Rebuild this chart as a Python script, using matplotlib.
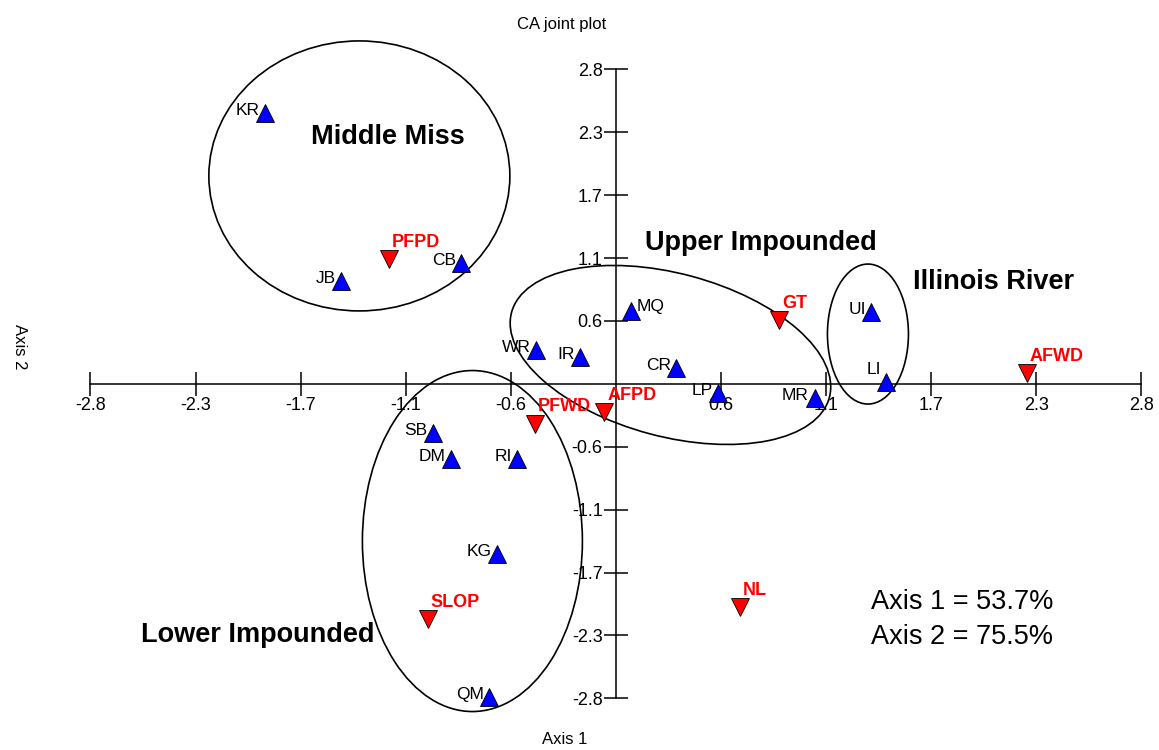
import numpy as np
import matplotlib
matplotlib.use("Agg")
import matplotlib.pyplot as plt
from matplotlib.patches import Ellipse
from matplotlib.transforms import ScaledTranslation

plt.rcParams['font.family'] = ['Liberation Sans', 'DejaVu Sans']

# sites (blue triangles)
site_names = ["KR", "JB", "CB", "MQ", "WR", "IR", "CR", "LP", "MR", "UI", "LI",
              "SB", "DM", "RI", "KG", "QM"]
site_x = [-1.876, -1.469, -0.827, 0.083, -0.426, -0.190, 0.324, 0.549, 1.063, 1.368, 1.448,
          -0.977, -0.881, -0.527, -0.634, -0.677]
site_y = [2.422, 0.919, 1.080, 0.651, 0.302, 0.240, 0.141, -0.082, -0.127, 0.642, 0.016,
          -0.440, -0.673, -0.673, -1.523, -2.802]

# species / variables (red triangles)
var_names = ["PFPD", "GT", "AFWD", "AFPD", "PFWD", "NL", "SLOP"]
var_x = [-1.214, 0.875, 2.201, -0.062, -0.431, 0.662, -1.005]
var_y = [1.114, 0.571, 0.094, -0.250, -0.355, -1.994, -2.106]

# group ellipses
groups = ["Middle Miss", "Upper Impounded", "Illinois River", "Lower Impounded"]
group_cx = [-1.373, 0.292, 1.349, -0.768]
group_cy = [1.859, 0.258, 0.445, -1.406]
group_label_x = [-1.218, 0.774, 2.021, -1.919]
group_label_y = [2.203, 1.257, 0.913, -2.247]

tick_vals = [-2.8125, -2.25, -1.6875, -1.125, -0.5625, 0.5625, 1.125, 1.6875, 2.25, 2.8125]
tick_labels = ["-2.8", "-2.3", "-1.7", "-1.1", "-0.6", "0.6", "1.1", "1.7", "2.3", "2.8"]

fig = plt.figure(figsize=(11.59, 7.5), dpi=100)
ax = fig.add_axes([0.078, 0.0689, 0.9068, 0.8387])
ax.set_xlim(-2.8125, 2.8125)
ax.set_ylim(-2.8125, 2.8125)

for s in ["top", "right"]:
    ax.spines[s].set_visible(False)
ax.spines["left"].set_position(("data", 0))
ax.spines["bottom"].set_position(("data", 0))
for s in ["left", "bottom"]:
    ax.spines[s].set_linewidth(1.1)
    ax.spines[s].set_zorder(1)

ax.set_xticks(tick_vals)
ax.set_xticklabels(tick_labels)
ax.set_yticks(tick_vals)
ax.set_yticklabels(tick_labels)
ax.tick_params(direction="inout", length=17, width=1.1, labelsize=13, pad=1)

# ellipses: sizes in display pixels, centred on data points
ell_w = [301, 329, 81, 220]
ell_h = [270, 163, 140, 341]
ell_ang = [0, -15, 0, 0]
for i in range(len(groups)):
    tr = ScaledTranslation(group_cx[i], group_cy[i], ax.transData)
    e = Ellipse((0, 0), ell_w[i], ell_h[i], angle=ell_ang[i], transform=tr,
                fill=False, edgecolor="black", linewidth=1.2, clip_on=False, zorder=2)
    ax.add_artist(e)
    ax.text(group_label_x[i], group_label_y[i], groups[i], fontsize=19.5,
            fontweight="bold", ha="center", va="center", zorder=5)

ax.plot(site_x, site_y, linestyle="none", marker="^", markersize=12.5,
        markerfacecolor="#0000FF", markeredgecolor="black", markeredgewidth=0.6,
        zorder=4, clip_on=False)
ax.plot(var_x, var_y, linestyle="none", marker="v", markersize=12.5,
        markerfacecolor="#FF0000", markeredgecolor="black", markeredgewidth=0.6,
        zorder=4, clip_on=False)

special = {"MQ": ((4, 3), "left"), "LI": ((-4, 9), "right")}
for n, x, y in zip(site_names, site_x, site_y):
    off, ha = special.get(n, ((-4, 2), "right"))
    ax.annotate(n, (x, y), xytext=off, textcoords="offset points",
                ha=ha, va="center", fontsize=12.5, zorder=3)

for n, x, y in zip(var_names, var_x, var_y):
    ax.annotate(n, (x, y), xytext=(2, 12), textcoords="offset points",
                ha="left", va="center", fontsize=13, fontweight="bold",
                color="#FF0000", zorder=3)

ax.text(1.366, -1.949, "Axis 1 = 53.7%", fontsize=19.5, ha="left", va="center")
ax.text(1.366, -2.26, "Axis 2 = 75.5%", fontsize=19.5, ha="left", va="center")

fig.text(562 / 1159, 1 - 25 / 750, "CA joint plot", fontsize=12, ha="center", va="center")
fig.text(565 / 1159, 1 - 740 / 750, "Axis 1", fontsize=12, ha="center", va="center")
fig.text(19.5 / 1159, 1 - 347 / 750, "Axis 2", fontsize=12, rotation=270,
         ha="center", va="center")

fig.savefig("out.png", dpi=100)
